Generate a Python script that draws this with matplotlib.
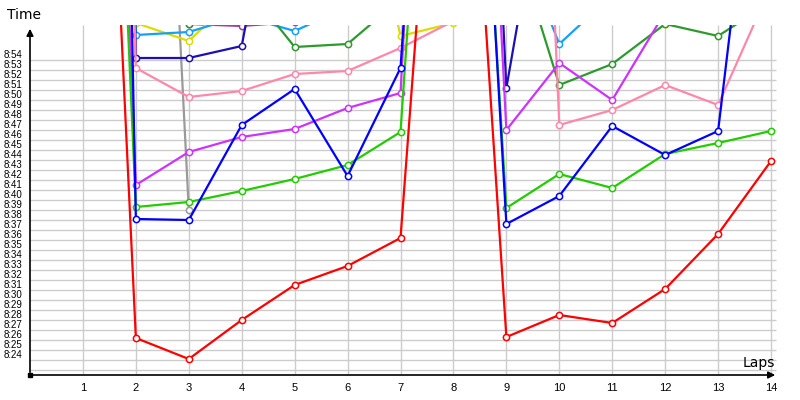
import numpy as np
import matplotlib.pyplot as plt

laps = list(range(1, 15))
gray_laps = [1, 2, 3]

# lap times in seconds (8:26.2 -> 506.2), values above 537.5 run off the top
red = [618.2, 506.2, 504.1, 508.0, 511.5, 513.4, 516.2, 586.5, 506.3, 508.5, 507.7, 511.1, 516.6, 523.9]
blue = [780.0, 518.1, 518.0, 527.5, 531.1, 522.4, 533.2, 610.0, 517.6, 520.4, 527.4, 524.5, 526.9, 571.1]
green = [639.8, 519.3, 519.8, 520.9, 522.1, 523.5, 526.8, 605.0, 519.2, 522.6, 521.2, 524.6, 525.7, 526.9]
magenta = [656.0, 521.5, 524.8, 526.3, 527.1, 529.2, 530.7, 630.0, 527.0, 533.7, 530.0, 538.8, 540.5, 542.0]
pink = [730.0, 533.2, 530.3, 530.9, 532.6, 532.9, 535.2, 537.9, 650.0, 527.5, 529.0, 531.5, 529.5, 541.4]
darkblue = [830.0, 534.2, 534.2, 535.4, 563.5, 560.0, 560.0, 642.0, 531.2, 561.6, 560.0, 560.0, 560.0, 560.0]
darkgreen = [700.0, 600.0, 537.6, 541.9, 535.3, 535.6, 540.1, 600.0, 548.5, 531.5, 533.6, 537.6, 536.4, 539.8]
lightblue = [800.0, 536.5, 536.8, 538.4, 536.9, 539.3, 545.0, 580.0, 549.0, 535.6, 540.5, 545.0, 545.0, 545.0]
yellow = [750.0, 537.7, 535.9, 540.9, 545.0, 560.0, 536.4, 537.7, 560.0, 550.0, 545.0, 537.6, 545.0, 550.0]
purple = [700.0, 560.0, 537.6, 537.4, 537.8, 545.0, 545.0, 600.0, 560.0, 550.0, 550.0, 550.0, 550.0, 550.0]
gray = [700.0, 624.2, 519.0]

series = [
    (gray_laps, gray, "#9a9a9a"),
    (laps, purple, "#a040a0"),
    (laps, yellow, "#dcdc00"),
    (laps, lightblue, "#14a0ff"),
    (laps, darkgreen, "#2e9a2e"),
    (laps, darkblue, "#1c10b4"),
    (laps, pink, "#ff88aa"),
    (laps, magenta, "#cc33ff"),
    (laps, green, "#22cc00"),
    (laps, blue, "#0000ff"),
    (laps, red, "#ff0000"),
]

px = 52.93  # pixels per lap
fig = plt.figure(figsize=(8, 4), dpi=100)
ax = fig.add_axes([30 / 800, 25 / 400, 760 / 800, 350 / 400])
ax.set_xlim(0, 760 / px)
ax.set_ylim(502.5, 537.5)

# grid
ax.hlines(np.arange(503, 535), 0, 746 / px, color="#cccccc", lw=1.0, zorder=0)
ax.vlines(laps, 502.5, 537.5, color="#cccccc", lw=1.0, zorder=0)

for xs, ys, c in series:
    ax.plot(xs, ys, "-o", color=c, lw=1.6, ms=4.5, mfc="white", mec=c, mew=1.1, zorder=3)

for s in ax.spines.values():
    s.set_visible(False)

yt = list(range(504, 535))
ax.set_yticks(yt)
ax.set_yticklabels([f"8:{t - 480:02d}" for t in yt], fontsize=7, family="Liberation Sans")
for lab in ax.get_yticklabels():
    lab.set_va("bottom")
ax.set_xticks(laps)
ax.set_xticklabels([str(l) for l in laps], fontsize=8, family="Liberation Sans")
ax.tick_params(axis="y", length=0, pad=5.5)
ax.tick_params(axis="x", length=0, pad=5.5)

# axes with arrows
ax.annotate("", xy=(0, 537.4), xytext=(0, 502.5),
            arrowprops=dict(arrowstyle="-|>", color="black", lw=1.2, mutation_scale=10),
            annotation_clip=False)
ax.annotate("", xy=(748 / px, 502.5), xytext=(0, 502.5),
            arrowprops=dict(arrowstyle="-|>", color="black", lw=1.2, mutation_scale=10),
            annotation_clip=False)
ax.plot(0, 502.5, "s", color="black", ms=2.5, clip_on=False, zorder=5)

fig.text(7 / 800, 1 - 15 / 400, "Time", ha="left", va="center", fontsize=10)
fig.text(743 / 800, 1 - 363 / 400, "Laps", ha="left", va="center", fontsize=10)

fig.savefig("out.png", dpi=100)
